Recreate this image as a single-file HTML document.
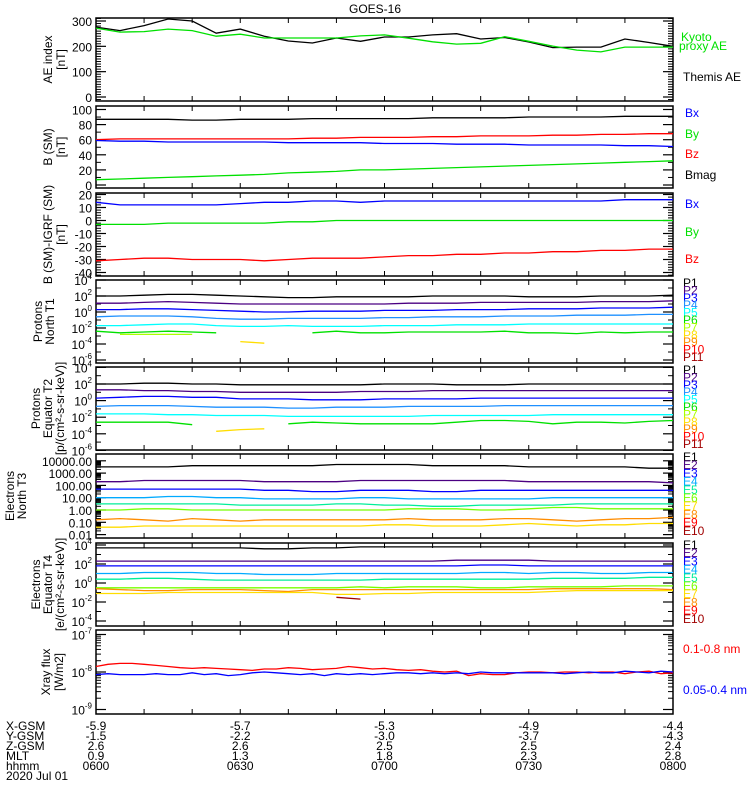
<!DOCTYPE html>
<html><head><meta charset="utf-8">
<style>
body{margin:0;background:#fff;}
svg{display:block;font-family:"Liberation Sans",sans-serif;}
text{font-size:12px;}
</style></head>
<body>
<svg id="c" width="750" height="800" viewBox="0 0 750 800"></svg>
<script>
// ---- data (5-minute samples, 0600..0800) ----
const times = [0,5,10,15,20,25,30,35,40,45,50,55,60,65,70,75,80,85,90,95,100,105,110,115,120];
const aeThemis = [276,262,282,308,300,252,268,240,221,213,233,220,237,237,245,250,229,235,217,195,197,197,229,215,200];
const aeKyoto  = [272,256,258,268,262,240,248,233,233,233,233,241,245,232,218,209,212,238,220,201,185,178,197,197,197];
const smBx  = [59,58,58,57,57,57,57,57,56,56,56,56,55,55,55,54,54,54,53,53,53,53,52,52,51];
const smBy  = [60,61,61,61,61,61,61,61,61,62,62,63,63,63,64,64,65,65,65,66,66,67,67,68,68];
const smBz  = [7,8,9,10,11,12,13,14,16,17,18,20,20,21,22,23,24,25,26,27,28,29,30,31,32];
const smBmag= [87,87,87,87,86,86,87,87,87,88,88,88,88,88,89,89,89,89,90,90,90,90,91,91,91];
const dBx = [14,12,12,12,12,12,13,14,14,15,15,14,15,15,15,15,15,15,15,15,15,15,16,16,16];
const dBy = [-3,-3,-3,-2,-2,-2,-2,-2,-1,-1,0,0,0,0,0,0,0,0,0,0,0,0,0,0,0];
const dBz = [-31,-30,-29,-29,-30,-30,-30,-31,-30,-29,-29,-29,-28,-27,-27,-26,-26,-25,-25,-24,-24,-23,-23,-22,-22];
// log10 flux
const pN = [
 [2,2,2.1,2.2,2.2,2.1,2,1.9,1.8,1.8,1.9,1.9,1.9,1.9,2,2,2,2,1.9,1.9,1.9,2,2,2,2.1],
 [1.1,1.1,1.2,1.3,1.2,1.1,1,1,1,1,1,1,1,1.1,1.1,1.1,1.2,1.2,1.2,1.2,1.2,1.3,1.3,1.3,1.4],
 [0.3,0.3,0.4,0.4,0.3,0.2,0.1,0,0,0.1,0.1,0.1,0.2,0.2,0.2,0.3,0.3,0.3,0.4,0.4,0.4,0.5,0.5,0.5,0.6],
 [-0.6,-0.5,-0.5,-0.5,-0.6,-0.8,-0.9,-0.9,-0.8,-0.8,-0.8,-0.8,-0.7,-0.7,-0.6,-0.6,-0.6,-0.5,-0.5,-0.5,-0.4,-0.4,-0.4,-0.3,-0.3],
 [-1.7,-1.7,-1.6,-1.5,-1.5,-1.7,-1.8,-1.8,-1.7,-1.8,-1.8,-1.8,-1.7,-1.7,-1.7,-1.6,-1.6,-1.6,-1.5,-1.5,-1.5,-1.5,-1.5,-1.5,-1.5],
 [-2.4,-2.6,-2.5,-2.4,-2.5,-2.6,null,null,null,-2.6,-2.4,-2.6,-2.6,-2.5,-2.5,-2.5,-2.5,-2.4,-2.6,-2.6,-2.7,-2.5,-2.6,-2.5,-2.5],
 [null,-2.8,-2.8,-2.8,-2.8,null,null,null,null,null,null,null,null,null,null,null,null,null,null,null,null,null,null,null,null],
 [null,null,null,null,null,null,-3.7,-3.9,null,null,null,null,null,null,null,null,null,null,null,null,null,null,null,null,null]];
const pE = [
 [2,2,2.1,2.1,2,2,1.9,1.9,1.9,1.9,1.9,1.9,2,2,2,1.9,1.9,1.9,2,2,2,2,2,2,2],
 [1.3,1.3,1.2,1.2,1.1,1.1,1,1,1,1,1,1.1,1.1,1.1,1.2,1.2,1.2,1.2,1.2,1.2,1.2,1.2,1.2,1.2,1.2],
 [0.3,0.4,0.5,0.5,0.4,0.4,0.2,0.2,0.2,0.1,0.1,0.1,0.2,0.2,0.2,0.2,0.3,0.3,0.3,0.3,0.3,0.3,0.3,0.3,0.3],
 [-0.7,-0.6,-0.6,-0.6,-0.7,-0.8,-0.8,-0.8,-0.9,-0.9,-0.8,-0.8,-0.8,-0.7,-0.7,-0.7,-0.7,-0.6,-0.6,-0.6,-0.6,-0.6,-0.6,-0.6,-0.6],
 [-1.6,-1.6,-1.6,-1.7,-1.7,-1.8,-1.8,-1.8,-1.9,-1.9,-1.9,-1.9,-1.9,-1.9,-1.8,-1.8,-1.8,-1.8,-1.8,-1.7,-1.7,-1.7,-1.7,-1.7,-1.7],
 [-2.6,-2.6,-2.6,-2.6,-2.9,null,null,null,-2.8,-2.6,-2.7,-2.8,-2.8,-2.8,-2.8,-2.6,-2.4,-2.4,-2.5,-2.8,-2.6,-2.6,-2.7,-2.5,-2.4],
 [null,null,null,null,null,-3.7,-3.5,-3.4,null,null,null,null,null,null,null,null,null,null,null,null,null,null,null,null,null]];
const eN = [
 [3.5,3.5,3.5,3.5,3.6,3.6,3.6,3.6,3.6,3.6,3.7,3.7,3.7,3.7,3.6,3.6,3.6,3.6,3.5,3.5,3.5,3.5,3.5,3.4,3.4],
 [2.3,2.3,2.4,2.4,2.4,2.4,2.4,2.3,2.3,2.3,2.3,2.4,2.4,2.4,2.4,2.4,2.4,2.4,2.3,2.3,2.3,2.3,2.3,2.3,2.2],
 [1.7,1.7,1.7,1.7,1.7,1.7,1.7,1.6,1.6,1.5,1.5,1.6,1.6,1.6,1.5,1.5,1.6,1.6,1.6,1.6,1.6,1.6,1.6,1.6,1.6],
 [1,1,1,1.1,1.1,1,1,0.9,0.9,0.9,0.9,1,1,0.9,0.9,0.9,0.9,0.9,0.9,1,1,1,1,1,1],
 [0.5,0.5,0.5,0.5,0.5,0.5,0.4,0.4,0.4,0.4,0.5,0.5,0.4,0.4,0.3,0.3,0.4,0.4,0.4,0.4,0.5,0.5,0.5,0.5,0.5],
 [0,0,0.1,0.1,0,0,0,0,0,0,0,0,0,0.1,0.1,0.1,0,0,0.1,0.2,0.2,0.1,0.1,0.1,0.1],
 [-0.8,-0.7,-0.8,-0.9,-0.7,-0.8,-0.9,-0.8,-0.8,-0.8,-0.8,-0.8,-0.8,-0.7,-0.8,-0.8,-0.8,-0.7,-0.7,-0.8,-0.9,-0.8,-0.7,-0.7,-0.6],
 [-1.4,-1.4,-1.3,-1.3,-1.3,-1.3,-1.3,-1.3,-1.3,-1.3,-1.3,-1.3,-1.2,-1.2,-1.3,-1.3,-1.3,-1.2,-1.1,-1.2,-1.3,-1.2,-1.2,-1.1,-1.1]];
const eE = [
 [3.7,3.7,3.7,3.7,3.7,3.7,3.7,3.6,3.6,3.7,3.7,3.8,3.8,3.8,3.8,3.8,3.8,3.8,3.8,3.8,3.8,3.8,3.8,3.8,3.8],
 [2.3,2.3,2.3,2.3,2.3,2.3,2.3,2.3,2.3,2.3,2.3,2.3,2.3,2.3,2.3,2.4,2.4,2.4,2.4,2.3,2.3,2.3,2.3,2.3,2.3],
 [1.8,1.8,1.8,1.8,1.8,1.8,1.8,1.8,1.8,1.8,1.8,1.8,1.8,1.8,1.8,1.8,1.9,1.9,1.8,1.8,1.8,1.8,1.8,1.8,1.8],
 [1,1,1.1,1.1,1.1,1,1,0.9,0.9,0.9,1,1,1,1,1,1,1.1,1.1,1,1.1,1.1,1,1,1.1,1.1],
 [0.4,0.4,0.5,0.5,0.4,0.3,0.3,0.3,0.3,0.3,0.3,0.3,0.4,0.4,0.4,0.4,0.4,0.4,0.4,0.5,0.5,0.5,0.5,0.6,0.6],
 [-0.5,-0.5,-0.5,-0.5,-0.5,-0.5,-0.5,-0.5,-0.5,-0.5,-0.5,-0.4,-0.5,-0.4,-0.4,-0.4,-0.5,-0.5,-0.4,-0.4,-0.4,-0.4,-0.3,-0.3,-0.3],
 [-0.6,-0.7,-0.8,-0.8,-0.7,-0.7,-0.7,-0.8,-0.9,-0.7,-0.7,-0.7,-0.7,-0.7,-0.7,-0.7,-0.7,-0.7,-0.7,-0.6,-0.6,-0.6,-0.6,-0.6,-0.7],
 [-1.1,-1.1,-1.1,-1,-1,-1,-1,-1,-1,-1,-1.2,-1.2,-1.1,-1.1,-1,-1,-1,-1,-1,-0.9,-0.8,-0.8,-0.8,-0.8,-0.8],
 [null,null,null,null,null,null,null,null,null,null,-1.5,-1.7,null,null,null,null,null,null,null,null,null,null,null,null,null]];
// X-ray flux, units of 1e-8 W/m2, 2.5-minute samples
const xrLong = [1.4,1.6,1.7,1.7,1.6,1.5,1.4,1.3,1.25,1.3,1.25,1.2,1.15,1.1,1.2,1.2,1.3,1.25,1.15,1.2,1.25,1.4,1.3,1.2,1.25,1.15,1.1,1.15,1.05,1.0,1.05,0.8,0.9,0.85,0.85,0.95,1.0,1.0,0.95,1.0,1.0,0.95,1.0,1.0,0.9,1.0,1.05,0.9,0.95];
const xrShort= [0.85,0.9,0.85,0.85,0.85,0.9,0.85,0.85,0.95,0.85,0.9,0.8,0.85,0.95,1.0,0.95,0.9,0.85,0.9,0.8,0.9,0.85,0.9,0.85,0.9,0.95,0.95,0.9,0.95,0.9,0.95,0.9,1.0,0.95,0.95,0.95,0.95,0.95,0.95,0.9,0.95,1.0,0.95,0.95,1.05,1.0,0.95,1.05,1.0];
const xLabels = ["0600","0630","0700","0730","0800"];
const xgsm = ["-5.9","-5.7","-5.3","-4.9","-4.4"];
const ygsm = ["-1.5","-2.2","-3.0","-3.7","-4.3"];
const zgsm = ["2.6","2.6","2.5","2.5","2.4"];
const mlt  = ["0.9","1.3","1.8","2.3","2.8"];
const pColors=["#000","#4b0082","#0000ff","#1e90ff","#00ffff","#00e000","#aaff00","#ffdd00","#ff8c00","#ff0000","#a00000"];
const eColors=["#000","#4b0082","#0000ff","#00aaff","#00ee99","#77ff00","#ffdd00","#ff8c00","#ff0000","#a00000"];

const svg=document.getElementById('c');
const NS="http://www.w3.org/2000/svg";
const X0=96,X1=673;
const xs=t=>X0+t/120*(X1-X0);
function el(tag,a,parent){const e=document.createElementNS(NS,tag);for(const k in a)e.setAttribute(k,a[k]);(parent||svg).appendChild(e);return e;}
function txt(x,y,s,a,parent){const t=el('text',Object.assign({x:x,y:y},a||{}),parent);t.textContent=s;return t;}
function line(x1,y1,x2,y2,c,w,p){return el('line',{x1,y1,x2,y2,stroke:c||'#000','stroke-width':w||1},p);}
function series(g,tarr,vals,ymap,color,name){
  let segs=[],cur=[];
  vals.forEach((v,i)=>{if(v===null){if(cur.length)segs.push(cur);cur=[];}else cur.push(xs(tarr[i]).toFixed(1)+','+ymap(v).toFixed(1));});
  if(cur.length)segs.push(cur);
  segs.forEach(s=>{if(s.length===1){const p=s[0].split(',');s.push((+p[0]+10)+','+p[1]);}
    const pl=el('polyline',{points:s.join(' '),fill:'none',stroke:color,'stroke-width':1.3},g);
    
    });
}
function panel(name,top,bot,ymap,ticks,minor,ylab,lx,leg){
  const g=el('g',{});
  
  
  el('rect',{x:X0,y:top,width:X1-X0,height:bot-top,fill:'none',stroke:'#000','stroke-width':1.5},g);
  for(let t=10;t<120;t+=10){line(xs(t),bot,xs(t),bot-5,'#000',1,g);line(xs(t),top,xs(t),top+5,'#000',1,g);}
  ticks.forEach(tk=>{const y=ymap(tk[0]);line(X0,y,X0+10,y,'#000',1.2,g);line(X1,y,X1-10,y,'#000',1.2,g);
    const t=txt(X0-4,y+5,tk[1],{'text-anchor':'end','font-size':'13'},g);if(tk[2]){const s=el('tspan',{dy:-6,'font-size':'8'},t);s.textContent=tk[2];}});
  minor.forEach(v=>{const y=ymap(v);if(y<top||y>bot)return;line(X0,y,X0+5,y,'#000',1,g);line(X1,y,X1-5,y,'#000',1,g);});
  const cy=(top+bot)/2;
  const yl=el('text',{transform:`translate(0,${cy}) rotate(-90)`,'text-anchor':'middle','font-size':'12'},g);
  ylab.forEach((s,i)=>{const sp=el('tspan',{x:0,y:lx[i]+4},yl);sp.textContent=s;});
  leg.forEach(l=>{const t=txt(l[0],l[1],l[2],{fill:l[3],'font-size':l[4]||'11'},g);});
  return g;
}
txt(375,13,"GOES-16",{'text-anchor':'middle','font-size':'13',});
function range(a,b,s){const r=[];for(let v=a;v<=b+1e-9;v+=s)r.push(v);return r;}
function logMinor(a,b){const r=[];for(let e=a;e<b;e++)for(let k=2;k<10;k++)r.push(e+Math.log10(k));return r;}

// Panel 1 AE
let m1=v=>97-v*76/300;
let g1=panel('ae-index-panel',18,101,m1,[[0,'0'],[100,'100'],[200,'200'],[300,'300']],range(-10,310,10),['AE index','[nT]'],[48,61],
 [[681,41,'Kyoto','#00e000'],[679,50,'proxy AE','#00e000'],[683,81,'Themis AE','#000']]);
series(g1,times,aeThemis,m1,'#000','themis-ae-line');
series(g1,times,aeKyoto,m1,'#00e000','kyoto-ae-line');
// Panel 2 B SM
let m2=v=>185-v*0.755;
let g2=panel('b-sm-panel',106,188,m2,[[0,'0'],[20,'20'],[40,'40'],[60,'60'],[80,'80'],[100,'100']],[10,30,50,70,90],['B (SM)','[nT]'],[48,61],
 [[685,117,'Bx','#0000ff'],[685,138,'By','#00e000'],[685,158,'Bz','#ff0000'],[685,179,'Bmag','#000']]);
series(g2,times,smBmag,m2,'#000','bmag-line');
series(g2,times,smBy,m2,'#ff0000','by-sm-line');
series(g2,times,smBx,m2,'#0000ff','bx-sm-line');
series(g2,times,smBz,m2,'#00e000','bz-sm-line');
// Panel 3
let m3=v=>220.5-v*1.3;
let g3=panel('b-minus-igrf-panel',193,276,m3,[[20,'20'],[10,'10'],[0,'0'],[-10,'-10'],[-20,'-20'],[-30,'-30'],[-40,'-40']],range(-42,22,2),['B (SM)-IGRF (SM)','[nT]'],[48,61],
 [[685,208,'Bx','#0000ff'],[685,236,'By','#00e000'],[685,263,'Bz','#ff0000']]);
series(g3,times,dBx,m3,'#0000ff','dbx-line');
series(g3,times,dBy,m3,'#00e000','dby-line');
series(g3,times,dBz,m3,'#ff0000','dbz-line');
function plegend(top,pre,n,cols,sp){const out=[];for(let i=0;i<n;i++)out.push([683,top+i*sp,pre+(i+1),cols[i],'9']);return out;}
// Panel 4 protons north
let m4=e=>296+(2-e)*8;
let g4=panel('protons-north-panel',280,363,m4,[[4,'10','4'],[2,'10','2'],[0,'10','0'],[-2,'10','-2'],[-4,'10','-4'],[-6,'10','-6']],[3,1,-1,-3,-5],['Protons','North T1'],[38,50],plegend(287,'P',11,pColors,7.4));
pN.forEach((s,i)=>series(g4,times,s,m4,pColors[i],'proton-north-p'+(i+1)));
// Panel 5 protons equator
let m5=e=>384+(2-e)*8.3;
let g5=panel('protons-equator-panel',367,450,m5,[[4,'10','4'],[2,'10','2'],[0,'10','0'],[-2,'10','-2'],[-4,'10','-4'],[-6,'10','-6']],[3,1,-1,-3,-5],['Protons','Equator T2','[p/(cm²-s-sr-keV)]'],[36,48,60],plegend(374,'P',11,pColors,7.4));
pE.forEach((s,i)=>series(g5,times,s,m5,pColors[[0,1,2,3,4,5,7][i]],'proton-equator-p'+(i+1)));
// Panel 6 electrons north
let m6=e=>510-e*12.3;
let g6=panel('electrons-north-panel',454,538,m6,[[4,'10000.00'],[3,'1000.00'],[2,'100.00'],[1,'10.00'],[0,'1.00'],[-1,'0.10'],[-2,'0.01']],logMinor(-2,4),['Electrons','North T3'],[10,22],
 plegend(461,'E',10,eColors,8.2));
eN.forEach((s,i)=>series(g6,times,s,m6,["#000","#4b0082","#0000ff","#00aaff","#00ee99","#77ff00","#ff8c00","#ffdd00"][i],'electron-north-e'+(i+1)));
// Panel 7 electrons equator
let m7=e=>583-e*9.5;
let g7=panel('electrons-equator-panel',543,626,m7,[[4,'10','4'],[2,'10','2'],[0,'10','0'],[-2,'10','-2'],[-4,'10','-4']],[3,1,-1,-3],['Electrons','Equator T4','[e/(cm²-s-sr-keV)]'],[36,48,60],
 plegend(549,'E',10,["#000","#4b0082","#0000ff","#00aaff","#00ee99","#77ff00","#ffdd00","#ff8c00","#ff0000","#a00000"],8.2));
eE.forEach((s,i)=>series(g7,times,s,m7,["#000","#4b0082","#0000ff","#00aaff","#00ee99","#77ff00","#ff8c00","#ffdd00","#a00000"][i],'electron-equator-e'+(i+1)));
// Panel 8 xray
let m8=v=>672-Math.log10(v)*37.5;
const xt=xrLong.map((_,i)=>i*2.5);
let minor8=[];for(let k=2;k<10;k++){minor8.push(k/10);minor8.push(k);}
let g8=panel('xray-flux-panel',630,714,m8,[[10,'10','-7'],[1,'10','-8'],[0.1,'10','-9']],minor8,['Xray flux','[W/m2]'],[46,59],
 [[683,653,'0.1-0.8 nm','#ff0000','12'],[683,694,'0.05-0.4 nm','#0000ff','12']]);
series(g8,xt,xrLong,m8,'#ff0000','xray-long-line');
series(g8,xt,xrShort,m8,'#0000ff','xray-short-line');
// bottom annotations
const rows=[['X-GSM',xgsm],['Y-GSM',ygsm],['Z-GSM',zgsm],['MLT',mlt],['hhmm',xLabels]];
rows.forEach((r,j)=>{const y=730+j*10;txt(6,y,r[0],{'font-size':'11',});
 r[1].forEach((s,i)=>txt(xs(i*30),y,s,{'text-anchor':'middle','font-size':'11',}));});
txt(6,780,'2020 Jul 01',{'font-size':'11',});
</script>
</body></html>
